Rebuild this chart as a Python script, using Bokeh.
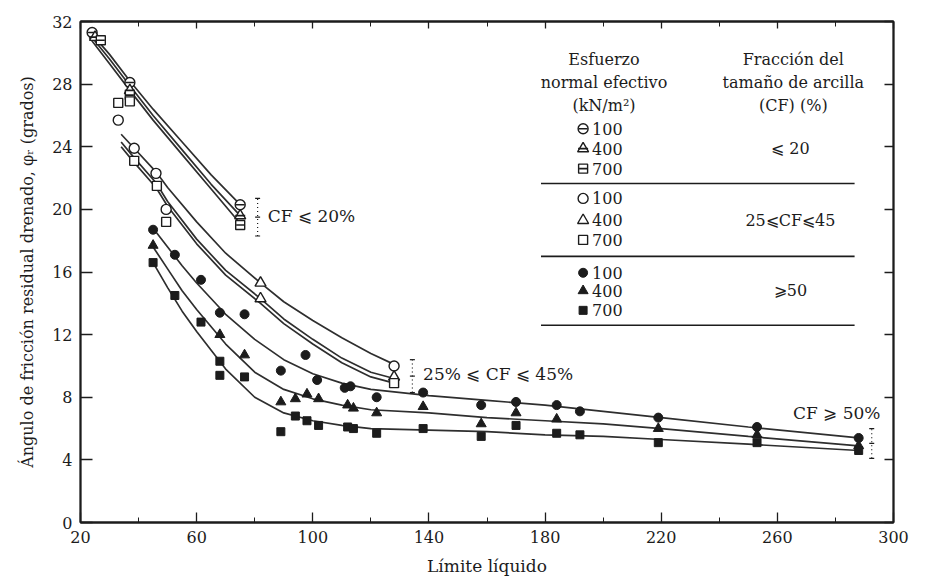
from bokeh.plotting import figure
from bokeh.models import (FixedTicker, LinearAxis, Range1d, Label)
from bokeh.embed import file_html
from bokeh.resources import INLINE

FONT = "DejaVu Serif"
INK = "#1c1c1c"
CURVE = "#2e2e2e"

# ---------------- data: liquid limit (x) vs drained residual friction angle (y)
# clay fraction CF <= 20 %
cf20_x100 = [24, 37, 75]
cf20_y100 = [31.3, 28.1, 20.3]
cf20_x400 = [25, 37, 75]
cf20_y400 = [31.0, 27.6, 19.6]
cf20_x700 = [27, 37, 75]
cf20_y700 = [30.8, 27.3, 19.0]

# fitted curves, CF <= 20 %
cf20_cx = [23, 30, 37, 45, 55, 65, 75]
cf20_c100 = [31.4, 29.9, 28.2, 26.4, 24.3, 22.2, 20.3]
cf20_c400 = [31.2, 29.6, 27.9, 26.0, 23.8, 21.6, 19.6]
cf20_c700 = [31.0, 29.3, 27.6, 25.7, 23.5, 21.3, 19.1]

# clay fraction 25 % <= CF <= 45 %
cf45_x100 = [33, 38.5, 46, 49.5, 128]
cf45_y100 = [25.7, 23.9, 22.3, 20.0, 10.0]
cf45_x400 = [82, 82, 128]
cf45_y400 = [15.3, 14.3, 9.3]
cf45_x700 = [33, 37, 38.5, 46.3, 49.5, 128]
cf45_y700 = [26.8, 26.9, 23.1, 21.5, 19.2, 8.9]

# fitted curves, 25 % <= CF <= 45 %
cf45_cx = [34, 38, 46, 50, 60, 70, 82, 90, 100, 110, 120, 128]
cf45_c100 = [24.8, 24.0, 22.4, 21.4, 19.2, 17.2, 15.3, 14.1, 12.9, 11.8, 10.8, 10.1]
cf45_c400 = [24.3, 23.4, 21.7, 20.5, 18.1, 16.1, 14.3, 13.0, 11.7, 10.5, 9.6, 9.2]
cf45_c700 = [24.0, 23.1, 21.4, 20.2, 17.8, 15.8, 14.0, 12.7, 11.4, 10.2, 9.3, 8.9]

# clay fraction CF >= 50 %
cf50_x100 = [45, 52.5, 61.5, 68, 76.5, 89, 97.5, 101.5, 111, 113, 122, 138, 158, 170, 184, 192, 219, 253, 288]
cf50_y100 = [18.7, 17.1, 15.5, 13.4, 13.3, 9.7, 10.7, 9.1, 8.6, 8.7, 8.0, 8.3, 7.5, 7.7, 7.5, 7.1, 6.7, 6.1, 5.4]
cf50_x400 = [45, 68, 76.5, 89, 94, 98, 102, 112, 114, 122, 138, 158, 170, 184, 219, 253, 288]
cf50_y400 = [17.7, 12.0, 10.7, 7.7, 7.9, 8.2, 7.9, 7.5, 7.3, 7.0, 7.4, 6.3, 7.0, 6.6, 6.0, 5.6, 4.9]
cf50_x700 = [45, 52.5, 61.5, 68, 68, 76.5, 89, 94, 98, 102, 112, 114, 122, 138, 158, 170, 184, 192, 219, 253, 288]
cf50_y700 = [16.6, 14.5, 12.8, 10.3, 9.4, 9.3, 5.8, 6.8, 6.5, 6.2, 6.1, 6.0, 5.7, 6.0, 5.5, 6.2, 5.7, 5.6, 5.1, 5.1, 4.6]

# fitted curves, CF >= 50 %
cf50_cx = [45, 50, 55, 60, 70, 80, 90, 100, 110, 120, 140, 160, 180, 200, 220, 250, 288]
cf50_c100 = [18.8, 17.6, 16.4, 15.3, 13.3, 11.7, 10.4, 9.5, 8.9, 8.5, 8.1, 7.8, 7.5, 7.1, 6.7, 6.1, 5.4]
cf50_c400 = [17.6, 16.2, 14.8, 13.6, 11.4, 9.6, 8.5, 7.9, 7.5, 7.2, 7.0, 6.7, 6.5, 6.3, 6.0, 5.5, 4.9]
cf50_c700 = [16.6, 15.0, 13.5, 12.2, 9.8, 8.0, 7.0, 6.5, 6.2, 6.0, 5.9, 5.8, 5.6, 5.5, 5.3, 5.0, 4.6]

x_ticks = [20, 60, 100, 140, 180, 220, 260, 300]
x_minor = [40, 80, 120, 160, 200, 240, 280]
y_ticks = [0, 4, 8, 12, 16, 20, 24, 28, 32]

stress_labels = ["100", "400", "700"]
cf_labels = ["⩽ 20", "25⩽CF⩽45", "⩾50"]

# ---------------- figure
p = figure(width=918, height=581, output_backend="svg", toolbar_location=None,
           x_range=Range1d(20, 300), y_range=Range1d(0, 32),
           min_border_left=80, min_border_right=25, min_border_top=21,
           min_border_bottom=59, background_fill_color="white",
           border_fill_color="white")
p.grid.visible = False
p.outline_line_color = INK
p.outline_line_width = 1.8


def style_axis(ax, show_labels=True):
    ax.axis_line_color = INK
    ax.axis_line_width = 1.8
    ax.major_tick_line_color = INK
    ax.minor_tick_line_color = INK
    ax.major_tick_line_width = 1.3
    ax.minor_tick_line_width = 1.0
    ax.major_tick_in = 10
    ax.major_tick_out = 0
    ax.minor_tick_in = 5
    ax.minor_tick_out = 0
    ax.major_label_text_font = FONT
    ax.major_label_text_font_size = "16px"
    ax.major_label_text_color = INK
    ax.axis_label_text_font = FONT
    ax.axis_label_text_font_style = "normal"
    ax.axis_label_text_font_size = "16px"
    ax.axis_label_text_color = INK
    if not show_labels:
        ax.major_label_text_alpha = 0


xa = p.xaxis[0]
xa.ticker = FixedTicker(ticks=x_ticks, minor_ticks=x_minor)
xa.axis_label = "Límite líquido"
xa.major_label_standoff = 8
xa.axis_label_standoff = 10
style_axis(xa)
xa.axis_label_text_font_size = "17px"

ya = p.yaxis[0]
ya.ticker = FixedTicker(ticks=y_ticks)
ya.axis_label = "Ángulo de fricción residual drenado, φᵣ (grados)"
ya.major_label_standoff = 8
ya.axis_label_standoff = 12
style_axis(ya)
ya.major_tick_in = 12

top = LinearAxis(ticker=FixedTicker(ticks=x_ticks, minor_ticks=x_minor))
style_axis(top, show_labels=False)
top.major_tick_in = 7
top.minor_tick_in = 5
p.add_layout(top, "above")

right = LinearAxis(ticker=FixedTicker(ticks=y_ticks))
style_axis(right, show_labels=False)
right.major_tick_in = 9
p.add_layout(right, "right")

# ---------------- fitted curves
for cx, cys in [(cf20_cx, [cf20_c100, cf20_c400, cf20_c700]),
                (cf45_cx, [cf45_c100, cf45_c400, cf45_c700]),
                (cf50_cx, [cf50_c100, cf50_c400, cf50_c700])]:
    for cy in cys:
        p.line(cx, cy, line_color=CURVE, line_width=1.7)

# ---------------- data points
SHAPES = ["circle", "triangle", "square"]
SIZES = [10, 11, 9]


def half_marks(xs, ys, k):
    p.scatter(xs, ys, marker=SHAPES[k], size=SIZES[k], fill_color="white",
              line_color=INK, line_width=1.4)
    p.scatter(xs, ys, marker="dash", size=SIZES[k] - 1, line_color=INK,
              line_width=1.6)


def open_marks(xs, ys, k):
    p.scatter(xs, ys, marker=SHAPES[k], size=SIZES[k], fill_color="white",
              line_color=INK, line_width=1.4)


def solid_marks(xs, ys, k):
    p.scatter(xs, ys, marker=SHAPES[k], size=SIZES[k] - 1, fill_color=INK,
              line_color=INK, line_width=1)


half_marks(cf20_x100, cf20_y100, 0)
half_marks(cf20_x400, cf20_y400, 1)
half_marks(cf20_x700, cf20_y700, 2)
open_marks(cf45_x100, cf45_y100, 0)
open_marks(cf45_x400, cf45_y400, 1)
open_marks(cf45_x700, cf45_y700, 2)
solid_marks(cf50_x100, cf50_y100, 0)
solid_marks(cf50_x400, cf50_y400, 1)
solid_marks(cf50_x700, cf50_y700, 2)

# ---------------- group brackets and captions


def bracket(x, y0, y1):
    p.segment([x], [y0], [x], [y1], line_color=INK, line_width=1.2,
              line_dash="1 3")
    p.scatter([x, x, x], [y0, (y0 + y1) / 2, y1], marker="dash", size=5,
              line_color=INK, line_width=1.2)


def text(x, y, s, align="left", size="16px"):
    p.add_layout(Label(x=x, y=y, text=s, text_font=FONT, text_font_size=size,
                       text_color=INK, text_align=align,
                       text_baseline="middle"))


bracket(81, 18.3, 20.7)
text(84.5, 19.6, "CF ⩽ 20%", size="17px")
bracket(134.3, 8.3, 10.4)
text(138, 9.5, "25% ⩽ CF ⩽ 45%", size="17px")
bracket(292.5, 4.1, 6.0)
text(295.5, 7.0, "CF ⩾ 50%", align="right", size="17px")

# ---------------- key table (upper right)
c1, c2 = 200.3, 265.5
for s, yy in [("Esfuerzo", 29.6), ("normal efectivo", 28.1), ("(kN/m²)", 26.65)]:
    text(c1, yy, s, align="center", size="16px")
for s, yy in [("Fracción del", 29.6), ("tamaño de arcilla", 28.1), ("(CF) (%)", 26.65)]:
    text(c2, yy, s, align="center", size="16px")

row_y = [[25.15, 23.88, 22.6], [20.7, 19.3, 18.05], [15.95, 14.8, 13.55]]
mx, tx = 193.1, 196.2
for g, rows in enumerate(row_y):
    for k, yy in enumerate(rows):
        if g == 0:
            half_marks([mx], [yy], k)
        elif g == 1:
            open_marks([mx], [yy], k)
        else:
            solid_marks([mx], [yy], k)
        text(tx, yy, stress_labels[k], size="16px")
    text(c2 - 1, rows[1], cf_labels[g], align="center", size="16px")

for yy in [21.65, 17.0, 12.6]:
    p.segment([178.6], [yy], [286.6], [yy], line_color=INK, line_width=1.6)

open("out.html", "w").write(file_html(p, INLINE))
